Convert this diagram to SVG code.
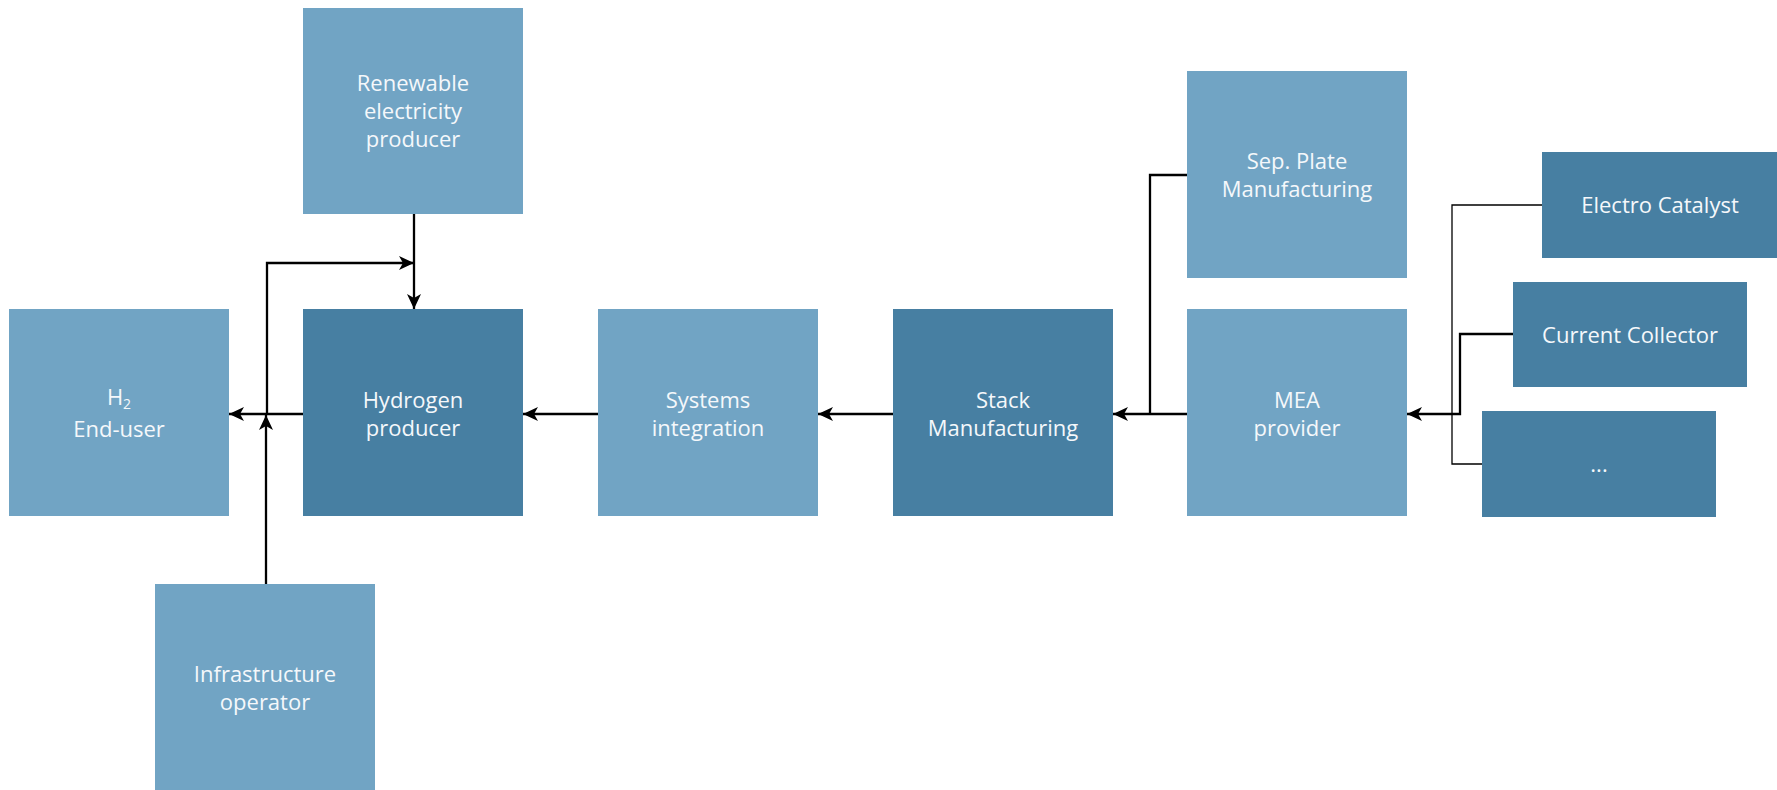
<svg xmlns="http://www.w3.org/2000/svg" width="1777" height="790" viewBox="0 0 1777 790">
<style>
.light{fill:#71A4C4}
.dark{fill:#477FA2}
.t{font-family:"Open Sans","Noto Sans",sans-serif;font-size:22px;fill:#F5F8FB;text-anchor:middle}
.c{fill:none;stroke:#000;stroke-width:2.3}
.thin{fill:none;stroke:#000;stroke-width:1.3}
</style>
<defs>
<marker id="arr" viewBox="0 0 15 14" refX="15" refY="7" markerWidth="15" markerHeight="14" markerUnits="userSpaceOnUse" orient="auto">
<path d="M0,0 L15,7 L0,14 L4,7 Z" fill="#000"/>
</marker>
</defs>
<rect width="1777" height="790" fill="#fff"/>
<g id="renewable"><rect class="light" x="303" y="8" width="220" height="206"/>
<text class="t" x="413" y="91">Renewable</text><text class="t" x="413" y="119">electricity</text><text class="t" x="413" y="147">producer</text></g>
<g id="enduser"><rect class="light" x="9" y="309" width="220" height="207"/>
<text class="t" x="119" y="405">H<tspan font-size="14" dy="4">2</tspan></text><text class="t" x="119" y="437">End-user</text></g>
<g id="hydrogen"><rect class="dark" x="303" y="309" width="220" height="207"/>
<text class="t" x="413" y="408">Hydrogen</text><text class="t" x="413" y="436">producer</text></g>
<g id="systems"><rect class="light" x="598" y="309" width="220" height="207"/>
<text class="t" x="708" y="408">Systems</text><text class="t" x="708" y="436">integration</text></g>
<g id="stack"><rect class="dark" x="893" y="309" width="220" height="207"/>
<text class="t" x="1003" y="408">Stack</text><text class="t" x="1003" y="436">Manufacturing</text></g>
<g id="mea"><rect class="light" x="1187" y="309" width="220" height="207"/>
<text class="t" x="1297" y="408">MEA</text><text class="t" x="1297" y="436">provider</text></g>
<g id="sepplate"><rect class="light" x="1187" y="71" width="220" height="207"/>
<text class="t" x="1297" y="169">Sep. Plate</text><text class="t" x="1297" y="197">Manufacturing</text></g>
<g id="electro"><rect class="dark" x="1542" y="152" width="235" height="106"/>
<text class="t" x="1660" y="213">Electro Catalyst</text></g>
<g id="current"><rect class="dark" x="1513" y="282" width="234" height="105"/>
<text class="t" x="1630" y="343">Current Collector</text></g>
<g id="more"><rect class="dark" x="1482" y="411" width="234" height="106"/>
<text class="t" x="1599" y="472">...</text></g>
<g id="infra"><rect class="light" x="155" y="584" width="220" height="206"/>
<text class="t" x="265" y="682">Infrastructure</text><text class="t" x="265" y="710">operator</text></g>
<g id="connectors">
<path class="c" d="M414,214 V309" marker-end="url(#arr)"/>
<path class="c" d="M267,414 V263 H414" marker-end="url(#arr)"/>
<path class="c" d="M303,414 H229" marker-end="url(#arr)"/>
<path class="c" d="M266,584 V415" marker-end="url(#arr)"/>
<path class="c" d="M598,414 H523" marker-end="url(#arr)"/>
<path class="c" d="M893,414 H818" marker-end="url(#arr)"/>
<path class="c" d="M1187,414 H1113" marker-end="url(#arr)"/>
<path class="c" d="M1187,175 H1150 V414"/>
<path class="c" d="M1513,334 H1460 V414 H1407" marker-end="url(#arr)"/>
<path class="thin" d="M1542,205 H1452 V464 H1482"/>
</g>
</svg>
